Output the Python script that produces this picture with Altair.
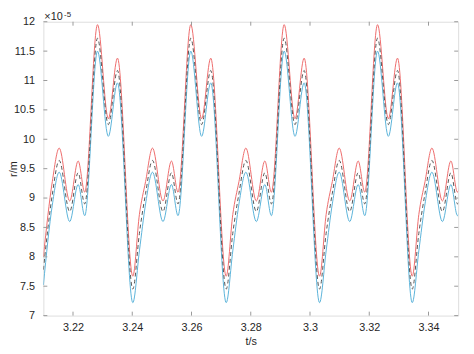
import altair as alt
import pandas as pd

# time (s) and radius values (x 1e-5 m)
t = [
    3.21000, 3.21301, 3.21534, 3.21888, 3.22174, 3.22396, 3.22827, 3.23192, 3.23501,
    3.24019, 3.24241, 3.24450, 3.24683, 3.25037, 3.25323, 3.25545, 3.25976, 3.26341, 3.26650,
    3.27171, 3.27393, 3.27602, 3.27835, 3.28189, 3.28475, 3.28697, 3.29128, 3.29493, 3.29802,
    3.30322, 3.30544, 3.30753, 3.30986, 3.31340, 3.31626, 3.31848, 3.32279, 3.32644, 3.32953,
    3.33451, 3.33673, 3.33882, 3.34115, 3.34469, 3.34755, 3.34977, 3.35408,
]
red = [
    8.00, 9.28, 9.85, 8.95, 9.63, 9.10, 11.95, 10.35, 11.38,
    7.67, 8.72, 9.28, 9.85, 8.95, 9.63, 9.10, 11.95, 10.35, 11.38,
    7.67, 8.72, 9.28, 9.85, 8.95, 9.63, 9.10, 11.95, 10.35, 11.38,
    7.67, 8.72, 9.28, 9.85, 8.95, 9.63, 9.10, 11.95, 10.35, 11.38,
    7.67, 8.72, 9.28, 9.85, 8.95, 9.63, 9.10, 11.95,
]
dashed = [
    7.78, 9.06, 9.64, 8.77, 9.43, 8.90, 11.72, 10.25, 11.17,
    7.45, 8.40, 9.08, 9.64, 8.77, 9.43, 8.90, 11.72, 10.25, 11.17,
    7.45, 8.40, 9.08, 9.64, 8.77, 9.43, 8.90, 11.72, 10.25, 11.17,
    7.45, 8.40, 9.08, 9.64, 8.77, 9.43, 8.90, 11.72, 10.25, 11.17,
    7.45, 8.40, 9.08, 9.64, 8.77, 9.43, 8.90, 11.72,
]
blue = [
    7.52, 8.88, 9.44, 8.60, 9.23, 8.70, 11.50, 10.05, 10.96,
    7.22, 8.10, 8.90, 9.44, 8.60, 9.23, 8.70, 11.50, 10.05, 10.96,
    7.22, 8.10, 8.90, 9.44, 8.60, 9.23, 8.70, 11.50, 10.05, 10.96,
    7.22, 8.10, 8.90, 9.44, 8.60, 9.23, 8.70, 11.50, 10.05, 10.96,
    7.22, 8.10, 8.90, 9.44, 8.60, 9.23, 8.70, 11.50,
]

x_ticks = [3.22, 3.24, 3.26, 3.28, 3.30, 3.32, 3.34]
y_ticks = [7, 7.5, 8, 8.5, 9, 9.5, 10, 10.5, 11, 11.5, 12]

W, H = 422, 299
FONT = "Liberation Sans"
AX = "#999999"
TXT = "#262626"
TL = 4

df = pd.DataFrame({"t": t, "red": red, "dashed": dashed, "blue": blue})

xs = alt.Scale(domain=[3.21, 3.35], nice=False, zero=False)
ys = alt.Scale(domain=[7, 12], nice=False, zero=False)

x_axis = alt.Axis(values=x_ticks, format="~g", title="t/s", ticks=False, domain=False,
                  grid=False, labelPadding=6, titlePadding=3, labelFontSize=11,
                  titleFontSize=11, titleFontWeight="normal", labelColor=TXT,
                  titleColor=TXT, labelFont=FONT, titleFont=FONT)
y_axis = alt.Axis(values=y_ticks, format="~g", title="r/m", ticks=False, domain=False,
                  grid=False, labelPadding=9, labelFontSize=11,
                  titleFontSize=11, titleFontWeight="normal", labelColor=TXT,
                  titleColor=TXT, labelFont=FONT, titleFont=FONT,
                  titleX=-30, titleY=H / 2, titleAngle=270, titleAlign="center",
                  titleBaseline="middle")

X = alt.X("t:Q", scale=xs, axis=x_axis)

def line(field, color, dash=None):
    kw = dict(color=color, strokeWidth=1, interpolate="monotone", clip=True)
    if dash:
        kw["strokeDash"] = dash
    return alt.Chart(df).mark_line(**kw).encode(
        x=X, y=alt.Y(f"{field}:Q", scale=ys, axis=y_axis))

red_line = line("red", "#ee6b6b")
blue_line = line("blue", "#5ab2d9")
dash_line = line("dashed", "#555555", [4, 3])

xt = pd.DataFrame({"t": x_ticks})
yt = pd.DataFrame({"r": y_ticks})
Y = alt.Y("r:Q", scale=ys, axis=y_axis)

xb = alt.Chart(xt).mark_rule(color=AX, strokeWidth=1).encode(x=X, y=alt.value(H), y2=alt.value(H - TL))
xtop = alt.Chart(xt).mark_rule(color=AX, strokeWidth=1).encode(x=X, y=alt.value(0), y2=alt.value(TL))
yl = alt.Chart(yt).mark_rule(color=AX, strokeWidth=1).encode(y=Y, x=alt.value(0), x2=alt.value(TL))
yr = alt.Chart(yt).mark_rule(color=AX, strokeWidth=1).encode(y=Y, x=alt.value(W), x2=alt.value(W - TL))

mult = alt.Chart(pd.DataFrame({"s": ["\u00d710"]})).mark_text(
    align="left", baseline="alphabetic", fontSize=11, font=FONT, color=TXT
).encode(text="s:N", x=alt.value(1), y=alt.value(-2))
expo = alt.Chart(pd.DataFrame({"s": ["-5"]})).mark_text(
    align="left", baseline="alphabetic", fontSize=8, font=FONT, color=TXT
).encode(text="s:N", x=alt.value(21), y=alt.value(-5))

chart = alt.layer(red_line, blue_line, dash_line, xb, xtop, yl, yr, mult, expo).properties(
    width=W, height=H,
    autosize=alt.AutoSizeParams(type="none"),
    padding={"left": 36, "top": 11, "right": 8, "bottom": 30},
).configure_view(stroke=AX, strokeWidth=1).configure(background="white")

chart.save("out.html", embed_options={"renderer": "svg", "actions": False})
